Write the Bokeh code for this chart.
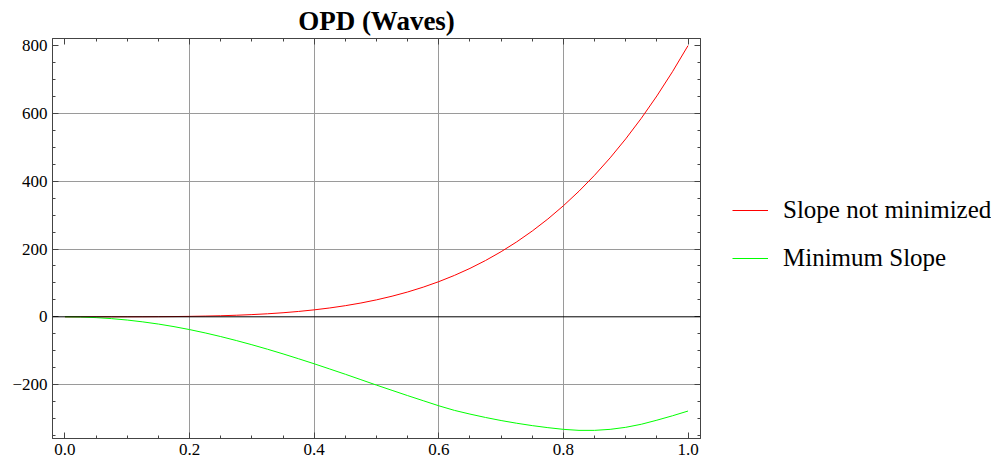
from bokeh.plotting import figure
from bokeh.layouts import row
from bokeh.models import Range1d, LinearAxis, FixedTicker, Span, Legend, LegendItem
from bokeh.embed import file_html
from bokeh.resources import INLINE

# ---- data ----
x_vals = [0.0, 0.025, 0.05, 0.075, 0.1, 0.125, 0.15, 0.175, 0.2, 0.225,
          0.25, 0.275, 0.3, 0.325, 0.35, 0.375, 0.4, 0.425, 0.45, 0.475,
          0.5, 0.525, 0.55, 0.575, 0.6, 0.625, 0.65, 0.675, 0.7, 0.725,
          0.75, 0.775, 0.8, 0.825, 0.85, 0.875, 0.9, 0.925, 0.95, 0.975, 1.0]

slope_not_minimized = [0.0, 0.0, 0.0, 0.03, 0.08, 0.2, 0.4, 0.75, 1.3, 2.1,
                       3.1, 4.6, 6.5, 8.9, 12.0, 15.8, 20.5, 26.1, 32.8, 40.7,
                       50.0, 60.8, 73.2, 87.5, 103.7, 122.1, 142.8, 166.1, 192.1, 221.0,
                       253.1, 288.5, 327.7, 370.6, 417.6, 468.9, 524.9, 585.6, 651.6, 722.9, 800.0]

minimum_slope = [0.0, -0.6, -2.4, -5.4, -9.6, -15.0, -21.4, -29.0, -37.7, -47.5,
                 -58.3, -70.0, -82.4, -95.6, -109.4, -123.8, -138.6, -154.0, -169.5, -185.5,
                 -201.5, -217.0, -232.5, -247.5, -262.5, -276.0, -287.0, -297.0, -306.0, -314.0,
                 -321.0, -327.0, -332.0, -335.0, -335.0, -332.0, -326.0, -317.0, -305.0, -292.0, -278.0]

series_labels = ["Slope not minimized", "Minimum Slope"]
series_colors = ["#ff0000", "#00ff00"]

x_major = [0.0, 0.2, 0.4, 0.6, 0.8, 1.0]
x_labels = ["0.0", "0.2", "0.4", "0.6", "0.8", "1.0"]
x_minor = [0.05, 0.1, 0.15, 0.25, 0.3, 0.35, 0.45, 0.5, 0.55, 0.65, 0.7, 0.75,
           0.85, 0.9, 0.95]
y_major = [-200, 0, 200, 400, 600, 800]
y_labels = ["\u2212200", "0", "200", "400", "600", "800"]
y_minor = [-350, -300, -250, -150, -100, -50, 50, 100, 150, 250, 300, 350,
           450, 500, 550, 650, 700, 750]
x_grid = [0.2, 0.4, 0.6, 0.8]
y_grid = [-200, 200, 400, 600]

FONT = "Liberation Serif"
FRAME = "#444444"

p = figure(width=701, height=464, output_backend="svg", toolbar_location=None,
           x_range=Range1d(-0.02, 1.02), y_range=Range1d(-359, 821),
           min_border_left=52, min_border_right=1, min_border_top=38,
           min_border_bottom=26, title="OPD (Waves)")
p.background_fill_color = "white"
p.border_fill_color = "white"
p.outline_line_color = FRAME
p.outline_line_width = 1

p.title.text_font = FONT
p.title.text_font_size = "27px"
p.title.text_font_style = "bold"
p.title.align = "center"
p.title.standoff = 6
p.title.text_color = "black"

def style_axis(ax, ticks, minor, labels, show_labels):
    ax.ticker = FixedTicker(ticks=ticks, minor_ticks=minor)
    ax.axis_line_color = FRAME
    ax.major_tick_line_color = FRAME
    ax.minor_tick_line_color = FRAME
    ax.major_tick_in = 6
    ax.major_tick_out = 0
    ax.minor_tick_in = 3
    ax.minor_tick_out = 0
    ax.major_label_text_font = FONT
    ax.major_label_text_color = "black"
    if show_labels:
        ax.major_label_overrides = {t: l for t, l in zip(ticks, labels)}
        ax.major_label_text_font_size = "17px"
        ax.major_label_standoff = 5
    else:
        ax.major_label_overrides = {t: "" for t in ticks}
        ax.major_label_text_font_size = "1px"
        ax.major_label_standoff = 0

style_axis(p.xaxis[0], x_major, x_minor, x_labels, True)
style_axis(p.yaxis[0], y_major, y_minor, y_labels, True)
top_ax = LinearAxis()
style_axis(top_ax, x_major, x_minor, x_labels, False)
p.add_layout(top_ax, "above")
right_ax = LinearAxis()
style_axis(right_ax, y_major, y_minor, y_labels, False)
p.add_layout(right_ax, "right")

p.xgrid.ticker = FixedTicker(ticks=x_grid)
p.ygrid.ticker = FixedTicker(ticks=y_grid)
for g in (p.xgrid[0], p.ygrid[0]):
    g.grid_line_color = "#9a9a9a"
    g.grid_line_width = 1

p.add_layout(Span(location=0, dimension="width", line_color="black", line_width=1))

p.line(x_vals, slope_not_minimized, line_color=series_colors[0], line_width=1)
p.line(x_vals, minimum_slope, line_color=series_colors[1], line_width=1)

# ---- legend panel: a bare figure whose lines lie outside its view ----
q = figure(width=290, height=464, output_backend="svg", toolbar_location=None,
           x_range=Range1d(5, 6), y_range=Range1d(5, 6),
           min_border=0, x_axis_location=None, y_axis_location=None)
q.outline_line_color = None
q.grid.visible = False
q.background_fill_color = "white"
q.border_fill_color = "white"
q1 = q.line(x_vals, slope_not_minimized, line_color=series_colors[0],
            line_width=1.1, line_alpha=1.0)
q2 = q.line(x_vals, minimum_slope, line_color=series_colors[1],
            line_width=1.1, line_alpha=1.0)

legend = Legend(items=[LegendItem(label=series_labels[0], renderers=[q1]),
                       LegendItem(label=series_labels[1], renderers=[q2])],
                location=(31, 166))
legend.border_line_color = None
legend.background_fill_alpha = 0
legend.padding = 0
legend.margin = 0
legend.glyph_width = 36
legend.glyph_height = 20
legend.label_standoff = 15
legend.spacing = 20
legend.label_text_font = FONT
legend.label_text_font_size = "25px"
legend.label_text_color = "black"
q.add_layout(legend, "center")

layout = row(p, q, spacing=0)
open("out.html", "w").write(file_html(layout, INLINE))
